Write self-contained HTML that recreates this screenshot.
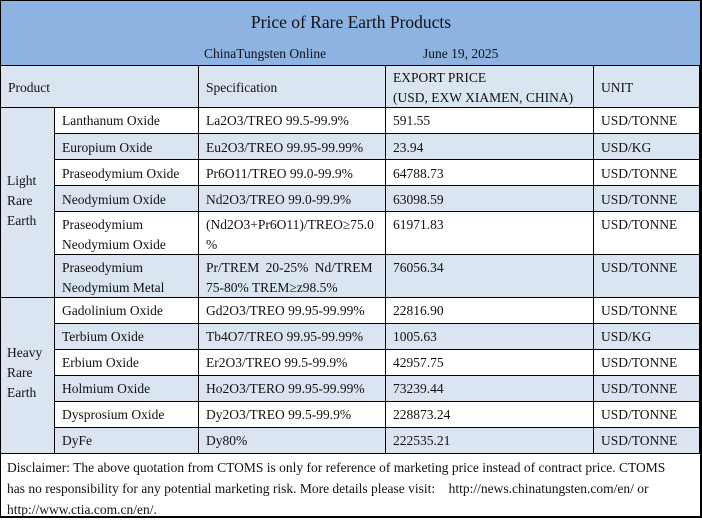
<!DOCTYPE html>
<html><head><meta charset="utf-8"><style>
*{margin:0;padding:0;box-sizing:border-box}
body{width:702px;height:518px;background:#fff;font-family:"Liberation Serif",serif;font-size:13.5px;color:#111;position:relative;overflow:hidden}
.c{position:absolute;border-right:1px solid #000;border-bottom:1px solid #000;padding:3px 7px;line-height:20px;white-space:nowrap}
.l{background:#dbe5f1}.w{background:#fff}
</style></head><body>
<div style="position:absolute;left:0;top:0;width:702px;height:518px;border:1px solid #000;border-right-width:2px;border-bottom-width:2px"></div>
<div style="position:absolute;left:1px;top:1px;width:699px;height:65px;background:#8db3e2;border-bottom:1px solid #000"></div>
<div style="position:absolute;left:0;top:12px;width:702px;text-align:center;font-size:17.5px">Price of Rare Earth Products</div>
<div style="position:absolute;left:204px;top:46px;font-size:13.5px">ChinaTungsten Online</div>
<div style="position:absolute;left:423px;top:46px;font-size:13.5px">June 19, 2025</div>

<div class="c l" style="left:1px;top:66px;width:198px;height:42px;padding-top:12px">Product</div>
<div class="c l" style="left:199px;top:66px;width:187px;height:42px;padding-top:12px">Specification</div>
<div class="c l" style="left:386px;top:66px;width:208px;height:42px;padding-top:2px">EXPORT PRICE<br>(USD, EXW XIAMEN, CHINA)</div>
<div class="c l" style="left:594px;top:66px;width:106px;height:42px;padding-top:12px">UNIT</div>

<div class="c l" style="left:1px;top:108px;width:54px;height:190px;padding:63px 0 0 6px">Light<br>Rare<br>Earth</div>
<div class="c l" style="left:1px;top:298px;width:54px;height:156px;padding:45px 0 0 6px">Heavy<br>Rare<br>Earth</div>

<div class="c w" style="left:55px;top:108px;width:144px;height:26px;padding-top:3px">Lanthanum Oxide</div>
<div class="c w" style="left:199px;top:108px;width:187px;height:26px;padding-top:3px">La2O3/TREO 99.5-99.9%</div>
<div class="c w" style="left:386px;top:108px;width:208px;height:26px;padding-top:3px">591.55</div>
<div class="c w" style="left:594px;top:108px;width:106px;height:26px;padding-top:3px">USD/TONNE</div>

<div class="c l" style="left:55px;top:134px;width:144px;height:26px;padding-top:4px">Europium Oxide</div>
<div class="c l" style="left:199px;top:134px;width:187px;height:26px;padding-top:4px">Eu2O3/TREO 99.95-99.99%</div>
<div class="c l" style="left:386px;top:134px;width:208px;height:26px;padding-top:4px">23.94</div>
<div class="c l" style="left:594px;top:134px;width:106px;height:26px;padding-top:4px">USD/KG</div>

<div class="c w" style="left:55px;top:160px;width:144px;height:26px;padding-top:4px">Praseodymium Oxide</div>
<div class="c w" style="left:199px;top:160px;width:187px;height:26px;padding-top:4px">Pr6O11/TREO 99.0-99.9%</div>
<div class="c w" style="left:386px;top:160px;width:208px;height:26px;padding-top:4px">64788.73</div>
<div class="c w" style="left:594px;top:160px;width:106px;height:26px;padding-top:4px">USD/TONNE</div>

<div class="c l" style="left:55px;top:186px;width:144px;height:26px;padding-top:4px">Neodymium Oxide</div>
<div class="c l" style="left:199px;top:186px;width:187px;height:26px;padding-top:4px">Nd2O3/TREO 99.0-99.9%</div>
<div class="c l" style="left:386px;top:186px;width:208px;height:26px;padding-top:4px">63098.59</div>
<div class="c l" style="left:594px;top:186px;width:106px;height:26px;padding-top:4px">USD/TONNE</div>

<div class="c w" style="left:55px;top:212px;width:144px;height:43px;padding-top:3px">Praseodymium<br>Neodymium Oxide</div>
<div class="c w" style="left:199px;top:212px;width:187px;height:43px;padding-top:3px">(Nd2O3+Pr6O11)/TREO≥75.0<br>%</div>
<div class="c w" style="left:386px;top:212px;width:208px;height:43px;padding-top:3px">61971.83</div>
<div class="c w" style="left:594px;top:212px;width:106px;height:43px;padding-top:3px">USD/TONNE</div>

<div class="c l" style="left:55px;top:255px;width:144px;height:43px;padding-top:3px">Praseodymium<br>Neodymium Metal</div>
<div class="c l" style="left:199px;top:255px;width:187px;height:43px;padding-top:3px;word-spacing:3px">Pr/TREM 20-25% Nd/TREM<br><span style="word-spacing:0">75-80% TREM≥z98.5%</span></div>
<div class="c l" style="left:386px;top:255px;width:208px;height:43px;padding-top:3px">76056.34</div>
<div class="c l" style="left:594px;top:255px;width:106px;height:43px;padding-top:3px">USD/TONNE</div>

<div class="c w" style="left:55px;top:298px;width:144px;height:26px;padding-top:3px">Gadolinium Oxide</div>
<div class="c w" style="left:199px;top:298px;width:187px;height:26px;padding-top:3px">Gd2O3/TREO 99.95-99.99%</div>
<div class="c w" style="left:386px;top:298px;width:208px;height:26px;padding-top:3px">22816.90</div>
<div class="c w" style="left:594px;top:298px;width:106px;height:26px;padding-top:3px">USD/TONNE</div>

<div class="c l" style="left:55px;top:324px;width:144px;height:26px;padding-top:3px">Terbium Oxide</div>
<div class="c l" style="left:199px;top:324px;width:187px;height:26px;padding-top:3px">Tb4O7/TREO 99.95-99.99%</div>
<div class="c l" style="left:386px;top:324px;width:208px;height:26px;padding-top:3px">1005.63</div>
<div class="c l" style="left:594px;top:324px;width:106px;height:26px;padding-top:3px">USD/KG</div>

<div class="c w" style="left:55px;top:350px;width:144px;height:26px;padding-top:3px">Erbium Oxide</div>
<div class="c w" style="left:199px;top:350px;width:187px;height:26px;padding-top:3px">Er2O3/TREO 99.5-99.9%</div>
<div class="c w" style="left:386px;top:350px;width:208px;height:26px;padding-top:3px">42957.75</div>
<div class="c w" style="left:594px;top:350px;width:106px;height:26px;padding-top:3px">USD/TONNE</div>

<div class="c l" style="left:55px;top:376px;width:144px;height:26px;padding-top:3px">Holmium Oxide</div>
<div class="c l" style="left:199px;top:376px;width:187px;height:26px;padding-top:3px">Ho2O3/TERO 99.95-99.99%</div>
<div class="c l" style="left:386px;top:376px;width:208px;height:26px;padding-top:3px">73239.44</div>
<div class="c l" style="left:594px;top:376px;width:106px;height:26px;padding-top:3px">USD/TONNE</div>

<div class="c w" style="left:55px;top:402px;width:144px;height:26px;padding-top:3px">Dysprosium Oxide</div>
<div class="c w" style="left:199px;top:402px;width:187px;height:26px;padding-top:3px">Dy2O3/TREO 99.5-99.9%</div>
<div class="c w" style="left:386px;top:402px;width:208px;height:26px;padding-top:3px">228873.24</div>
<div class="c w" style="left:594px;top:402px;width:106px;height:26px;padding-top:3px">USD/TONNE</div>

<div class="c l" style="left:55px;top:428px;width:144px;height:26px;padding-top:3px">DyFe</div>
<div class="c l" style="left:199px;top:428px;width:187px;height:26px;padding-top:3px">Dy80%</div>
<div class="c l" style="left:386px;top:428px;width:208px;height:26px;padding-top:3px">222535.21</div>
<div class="c l" style="left:594px;top:428px;width:106px;height:26px;padding-top:3px">USD/TONNE</div>

<div style="position:absolute;left:7px;top:457px;width:690px;line-height:21px;font-size:13.5px">
Disclaimer: The above quotation from CTOMS is only for reference of marketing price instead of contract price. CTOMS<br>has no responsibility for any potential marketing risk. More details please visit: &nbsp;&nbsp; http://news.chinatungsten.com/en/ or<br>http://www.ctia.com.cn/en/.</div>
</body></html>
